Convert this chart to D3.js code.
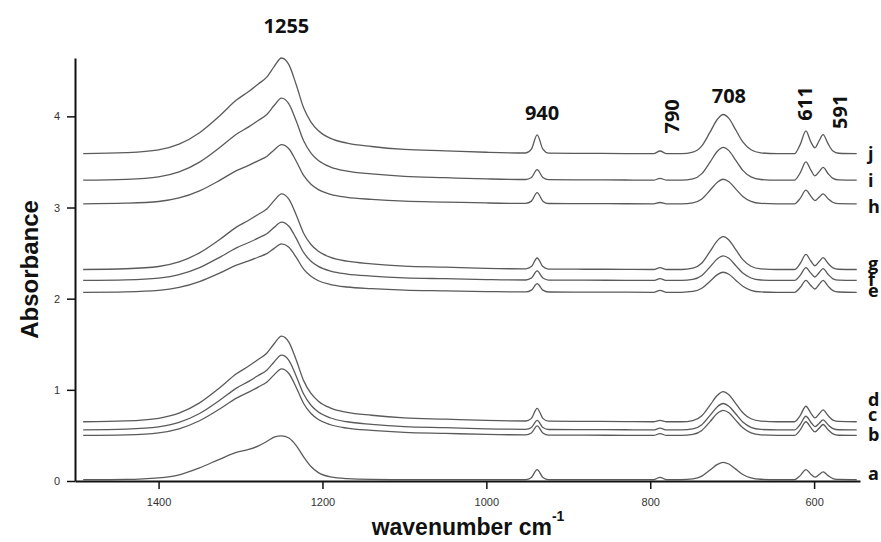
<!DOCTYPE html>
<html>
<head>
<meta charset="utf-8">
<script src="https://cdnjs.cloudflare.com/ajax/libs/d3/7.8.5/d3.min.js"></script>
<style>
  body { margin: 0; background: #fff; }
  .tick text { font-family: "Liberation Sans", Arial, sans-serif; font-size: 11px; fill: #333; }
  .peak, .name { font-family: "Open Sans", sans-serif; font-weight: 700; fill: #111; }
  .title { font-family: "Liberation Sans", Arial, sans-serif; font-weight: 700; fill: #111; }
</style>
</head>
<body>
<div id="chart"></div>
<script>
// shared wavenumber grid (cm-1), high to low
const wavenumbers = [
  1492, 1440, 1400, 1375, 1350, 1325, 1305, 1290, 1278, 1268, 1259, 1250, 1241, 1232, 1223, 1214, 1205, 1190, 1170, 1140, 1100, 1050, 1000,
  952, 945, 938, 931, 924,
  880, 830,
  796, 788, 780,
  762, 748, 737, 727, 718, 711, 704, 696, 687, 677, 665, 645,
  624, 617, 610, 604, 599, 594, 589, 583, 577, 570, 548
];

const names = ['a', 'b', 'c', 'd', 'e', 'f', 'g', 'h', 'i', 'j'];
// vertical stacking offset of each spectrum
const offsets = [0.015, 0.50, 0.56, 0.65, 2.07, 2.20, 2.32, 3.04, 3.30, 3.59];

// absorbance above offset, read at the grid above
const specA = [
  0, 0.002, 0.019, 0.053, 0.13, 0.226, 0.298, 0.331, 0.37, 0.418, 0.466, 0.48, 0.456, 0.374, 0.25, 0.144, 0.077, 0.029, 0.01, 0.002, 0, 0, 0,
  0, 0.024, 0.11, 0.024, 0,
  0, 0,
  0, 0.025, 0,
  0, 0.008, 0.038, 0.105, 0.167, 0.19, 0.171, 0.118, 0.057, 0.019, 0.004, 0,
  0, 0.044, 0.11, 0.06, 0.027, 0.055, 0.085, 0.044, 0.012, 0.002, 0
];
const specB = [
  0, 0.007, 0.029, 0.073, 0.161, 0.292, 0.409, 0.475, 0.533, 0.584, 0.664, 0.73, 0.679, 0.526, 0.35, 0.241, 0.175, 0.117, 0.08, 0.055, 0.033, 0.022, 0.011,
  0.006, 0.027, 0.105, 0.027, 0.004,
  0.003, 0.001,
  0, 0.02, 0,
  0, 0.011, 0.055, 0.151, 0.242, 0.275, 0.248, 0.171, 0.083, 0.028, 0.006, 0,
  0, 0.06, 0.15, 0.085, 0.038, 0.078, 0.12, 0.062, 0.017, 0.002, 0
];
const specC = [
  0, 0.008, 0.033, 0.082, 0.18, 0.328, 0.459, 0.533, 0.599, 0.656, 0.746, 0.82, 0.763, 0.59, 0.394, 0.271, 0.197, 0.131, 0.09, 0.062, 0.037, 0.025, 0.012,
  0.007, 0.027, 0.105, 0.027, 0.005,
  0.003, 0.002,
  0, 0.02, 0,
  0, 0.012, 0.058, 0.16, 0.255, 0.29, 0.261, 0.18, 0.087, 0.029, 0.006, 0,
  0, 0.06, 0.15, 0.085, 0.036, 0.072, 0.11, 0.057, 0.015, 0.002, 0
];
const specD = [
  0, 0.009, 0.038, 0.094, 0.207, 0.376, 0.526, 0.611, 0.686, 0.752, 0.855, 0.94, 0.874, 0.677, 0.451, 0.31, 0.226, 0.15, 0.103, 0.071, 0.042, 0.028, 0.014,
  0.008, 0.037, 0.146, 0.037, 0.006,
  0.004, 0.002,
  0, 0.015, 0,
  0, 0.013, 0.066, 0.182, 0.29, 0.33, 0.297, 0.205, 0.099, 0.033, 0.007, 0,
  0, 0.068, 0.17, 0.095, 0.042, 0.085, 0.13, 0.068, 0.018, 0.003, 0
];
const specE = [
  0, 0.005, 0.021, 0.053, 0.117, 0.212, 0.297, 0.345, 0.387, 0.424, 0.482, 0.53, 0.493, 0.382, 0.254, 0.175, 0.127, 0.085, 0.058, 0.04, 0.024, 0.016, 0.008,
  0.004, 0.024, 0.094, 0.024, 0.003,
  0.002, 0.001,
  0, 0.02, 0,
  0, 0.009, 0.044, 0.121, 0.194, 0.22, 0.198, 0.136, 0.066, 0.022, 0.004, 0,
  0, 0.052, 0.13, 0.075, 0.036, 0.085, 0.13, 0.068, 0.018, 0.003, 0
];
const specF = [
  0, 0.006, 0.026, 0.064, 0.141, 0.256, 0.358, 0.416, 0.467, 0.512, 0.582, 0.64, 0.595, 0.461, 0.307, 0.211, 0.154, 0.102, 0.07, 0.048, 0.029, 0.019, 0.01,
  0.005, 0.026, 0.105, 0.026, 0.004,
  0.003, 0.001,
  0, 0.02, 0,
  0, 0.011, 0.054, 0.149, 0.238, 0.27, 0.243, 0.167, 0.081, 0.027, 0.005, 0,
  0, 0.056, 0.14, 0.08, 0.038, 0.085, 0.13, 0.068, 0.018, 0.003, 0
];
const specG = [
  0, 0.008, 0.033, 0.083, 0.183, 0.332, 0.465, 0.54, 0.606, 0.664, 0.755, 0.83, 0.772, 0.598, 0.398, 0.274, 0.199, 0.133, 0.091, 0.062, 0.037, 0.025, 0.012,
  0.007, 0.032, 0.126, 0.032, 0.005,
  0.003, 0.002,
  0, 0.02, 0,
  0, 0.014, 0.072, 0.198, 0.317, 0.36, 0.324, 0.223, 0.108, 0.036, 0.007, 0,
  0, 0.066, 0.165, 0.093, 0.041, 0.085, 0.13, 0.068, 0.018, 0.003, 0
];
const specH = [
  0, 0.007, 0.026, 0.065, 0.143, 0.26, 0.364, 0.423, 0.475, 0.52, 0.592, 0.65, 0.605, 0.468, 0.312, 0.215, 0.156, 0.104, 0.072, 0.049, 0.029, 0.02, 0.01,
  0.005, 0.03, 0.124, 0.03, 0.004,
  0.003, 0.001,
  0, 0.015, 0,
  0, 0.011, 0.054, 0.149, 0.238, 0.27, 0.243, 0.167, 0.081, 0.027, 0.005, 0,
  0, 0.06, 0.15, 0.085, 0.036, 0.072, 0.11, 0.057, 0.015, 0.002, 0
];
const specI = [
  0, 0.009, 0.036, 0.09, 0.198, 0.36, 0.504, 0.585, 0.657, 0.72, 0.819, 0.9, 0.837, 0.648, 0.432, 0.297, 0.216, 0.144, 0.099, 0.068, 0.041, 0.027, 0.014,
  0.007, 0.029, 0.115, 0.029, 0.005,
  0.003, 0.002,
  0, 0.02, 0,
  0, 0.014, 0.072, 0.198, 0.317, 0.36, 0.324, 0.223, 0.108, 0.036, 0.007, 0,
  0, 0.08, 0.2, 0.11, 0.048, 0.091, 0.14, 0.073, 0.02, 0.003, 0
];
const specJ = [
  0, 0.011, 0.042, 0.105, 0.231, 0.42, 0.588, 0.683, 0.767, 0.84, 0.956, 1.05, 0.977, 0.756, 0.504, 0.347, 0.252, 0.168, 0.116, 0.079, 0.047, 0.032, 0.016,
  0.008, 0.05, 0.206, 0.05, 0.006,
  0.004, 0.002,
  0, 0.03, 0,
  0, 0.017, 0.086, 0.237, 0.378, 0.43, 0.387, 0.267, 0.129, 0.043, 0.009, 0,
  0, 0.1, 0.25, 0.13, 0.065, 0.14, 0.21, 0.11, 0.03, 0.005, 0
];
const spectra = [specA, specB, specC, specD, specE, specF, specG, specH, specI, specJ];

// where the letter labels sit (absorbance of the text baseline, at the right end)
const nameAt = [0.01, 0.44, 0.66, 0.82, 2.02, 2.14, 2.31, 2.94, 3.22, 3.52];

// band labels: text, wavenumber, absorbance, rotated?
const bandText = ['1255', '940', '790', '708', '611', '591'];
const bandWn   = [1244, 932, 765, 704, 602.5, 559.7];
const bandAbs  = [4.91, 3.96, 4.0, 4.15, 4.14, 4.05];
const bandRot  = [false, false, true, false, true, true];

const xTicks = [1400, 1200, 1000, 800, 600];
const yTicks = [0, 1, 2, 3, 4];

const width = 881, height = 542;

const svg = d3.select('#chart').append('svg')
  .attr('width', width)
  .attr('height', height);

const x = d3.scaleLinear().domain([1502, 544]).range([75, 860]);
const y = d3.scaleLinear().domain([0, 4.64]).range([481, 58]);

const line = d3.line()
  .x(d => x(d.wn))
  .y(d => y(d.v))
  .curve(d3.curveMonotoneX);

svg.append('g').selectAll('path')
  .data(spectra.map((s, k) => s.map((v, i) => ({ wn: wavenumbers[i], v: v + offsets[k] }))))
  .join('path')
  .attr('d', line)
  .attr('fill', 'none')
  .attr('stroke', '#5a5a5a')
  .attr('stroke-width', 1.3);

// axes
const xAxis = svg.append('g')
  .attr('transform', `translate(0,${y(0)})`)
  .call(d3.axisBottom(x).tickValues(xTicks).tickFormat(d3.format('d'))
    .tickSize(8).tickSizeOuter(0).tickPadding(9));

const yAxis = svg.append('g')
  .attr('transform', `translate(${x(1502)},0)`)
  .call(d3.axisLeft(y).tickValues(yTicks).tickFormat(d3.format('d'))
    .tickSize(8).tickSizeOuter(0).tickPadding(7));

[xAxis, yAxis].forEach(g => {
  g.select('.domain').attr('stroke', '#111').attr('stroke-width', 2);
  g.selectAll('.tick line').attr('stroke', '#111').attr('stroke-width', 1.5);
});

// letter labels
svg.append('g').selectAll('text')
  .data(names)
  .join('text')
  .attr('class', 'name')
  .attr('x', x(544) + 8)
  .attr('y', (d, i) => y(nameAt[i]))
  .attr('font-size', 18)
  .text(d => d);

// band labels
svg.append('g').selectAll('text')
  .data(bandText)
  .join('text')
  .attr('class', 'peak')
  .attr('font-size', 20)
  .attr('text-anchor', 'middle')
  .attr('transform', (d, i) => bandRot[i]
    ? `translate(${x(bandWn[i])},${y(bandAbs[i])}) rotate(-90)`
    : `translate(${x(bandWn[i])},${y(bandAbs[i])})`)
  .text(d => d);

// axis titles
svg.append('text')
  .attr('class', 'title')
  .attr('font-size', 24)
  .attr('text-anchor', 'middle')
  .attr('transform', `translate(38,${(y(0) + y(4.64)) / 2}) rotate(-90)`)
  .text('Absorbance');

const xt = svg.append('text')
  .attr('class', 'title')
  .attr('font-size', 23)
  .attr('text-anchor', 'middle')
  .attr('x', 468)
  .attr('y', 535);
xt.append('tspan').text('wavenumber cm');
xt.append('tspan').attr('font-size', 14).attr('dy', -14).text('-1');
</script>
</body>
</html>
